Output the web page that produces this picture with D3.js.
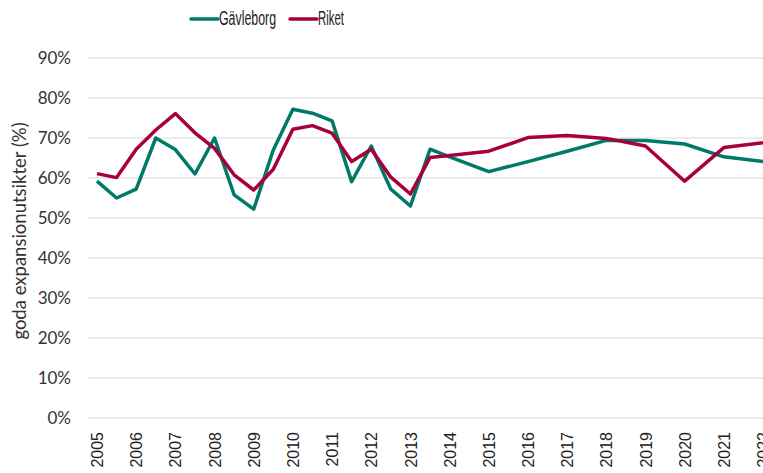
<!DOCTYPE html>
<html><head><meta charset="utf-8">
<script src="https://cdn.jsdelivr.net/npm/d3@7"></script>
<style>body{margin:0;background:#fff}svg{display:block}</style>
</head><body>
<svg id="c" width="763" height="473"></svg>
<script>
const periods = [2005,2005.5,2006,2006.5,2007,2007.5,2008,2008.5,2009,2009.5,2010,2010.5,2011,2011.5,2012,2012.5,2013,2013.5,2014,2015,2016,2017,2018,2019,2020,2021,2022];
const gavleborg = [59.2,55,57.2,70,67.1,61,70,55.8,52.2,67,77.2,76.2,74.3,59.1,68,57.2,53,67.2,65.3,61.6,64.1,66.7,69.4,69.4,68.5,65.3,64.1];
const riket = [61.1,60.1,67.2,72,76.1,71.3,67.4,60.8,57,62.2,72.2,73.1,71.2,64.1,67.2,60.2,56,65.1,65.6,66.7,70.1,70.6,69.9,68,59.2,67.6,68.8];
const yearTicks = [2005,2006,2007,2008,2009,2010,2011,2012,2013,2014,2015,2016,2017,2018,2019,2020,2021,2022];
const yTicks = [0,10,20,30,40,50,60,70,80,90];
const seriesNames = ["Gävleborg","Riket"];
const colors = ["#007a68","#a8003b"];

const svg = d3.select("#c");
const x = d3.scaleLinear().domain([2005,2022]).range([97,763]);
const y = d3.scaleLinear().domain([0,90]).range([418,58]);

// gridlines
svg.append("g").selectAll("line").data(yTicks).join("line")
  .attr("x1",88).attr("x2",763)
  .attr("y1",d=>y(d)).attr("y2",d=>y(d))
  .attr("stroke","#d9d9d9").attr("stroke-width",1);

// y axis labels
const yAxis = d3.axisLeft(y).tickValues(yTicks).tickFormat(d=>d+"%").tickSize(0).tickPadding(0);
const ya = svg.append("g").attr("transform","translate(71,0)").call(yAxis);
ya.select(".domain").remove();
ya.selectAll("text").attr("font-family","Lato").attr("font-size",17).attr("fill","#333");

// x axis labels
const xAxis = d3.axisBottom(x).tickValues(yearTicks).tickFormat(d3.format("d")).tickSize(0).tickPadding(0);
const xa = svg.append("g").attr("transform","translate(0,432)").call(xAxis);
xa.select(".domain").remove();
xa.selectAll("text").attr("font-family","Liberation Sans, Arial").attr("font-size",16).attr("fill","#222")
  .attr("text-anchor","end").attr("x",0).attr("y",0).attr("dy","0.35em")
  .attr("transform","rotate(-90)");

// y axis title
svg.append("text").attr("transform","translate(20,231) rotate(-90)")
  .attr("text-anchor","middle").attr("dy","0.35em")
  .attr("font-family","Lato").attr("font-size",18.5).attr("fill","#333")
  .text("goda expansionutsikter (%)");

// lines
const line = d3.line().x((d,i)=>x(periods[i])).y(d=>y(d));
[gavleborg,riket].forEach((s,k)=>{
  svg.append("path").datum(s).attr("d",line).attr("fill","none")
    .attr("stroke",colors[k]).attr("stroke-width",3.5).attr("stroke-linejoin","round");
});

// legend
const leg = [{x:191, w:57},{x:290, w:26}];
seriesNames.forEach((n,k)=>{
  const g = svg.append("g").attr("transform",`translate(${leg[k].x},19)`);
  g.append("line").attr("x1",0).attr("x2",27).attr("stroke",colors[k]).attr("stroke-width",3.5).attr("stroke-linecap","round");
  g.append("text").attr("x",28).attr("dy","0.33em")
    .attr("font-family","Liberation Sans, Arial, sans-serif")
    .attr("font-size",19.5).attr("fill","#222")
    .attr("textLength",leg[k].w).attr("lengthAdjust","spacingAndGlyphs").text(n);
});
</script>
</body></html>
